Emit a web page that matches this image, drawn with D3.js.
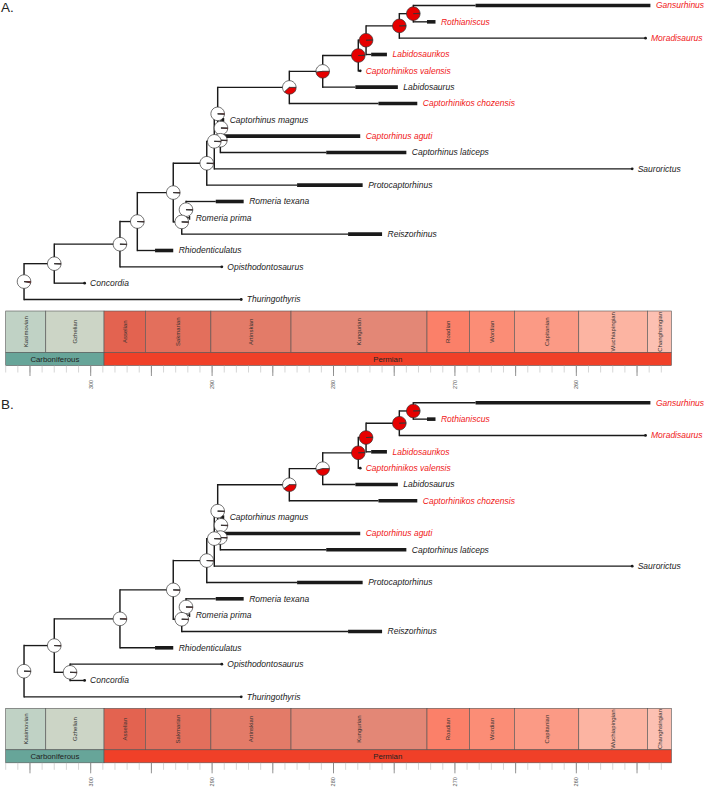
<!DOCTYPE html>
<html><head><meta charset="utf-8">
<script src="https://cdn.jsdelivr.net/npm/d3@7"></script>
<style>body{margin:0;background:#fff}svg{display:block}</style>
</head><body>
<svg id="chart" width="705" height="787"></svg>
<script>
// ---------- DATA ----------
const taxa = ["Gansurhinus","Rothianiscus","Moradisaurus","Labidosaurikos","Captorhinikos valensis","Labidosaurus","Captorhinikos chozensis","Captorhinus magnus","Captorhinus aguti","Captorhinus laticeps","Saurorictus","Protocaptorhinus","Romeria texana","Romeria prima","Reiszorhinus","Rhiodenticulatus","Opisthodontosaurus","Concordia","Thuringothyris"];
const firstAppearance = [268.3, 272.3, 254.3, 276.9, 277.8, 278.2, 276.3, 289.2, 289.1, 280.6, 255.4, 283.0, 289.7, 291.9, 278.8, 294.7, 289.2, 300.5, 287.6];
const lastAppearance  = [253.9, 271.6, 254.3, 275.6, 277.8, 274.7, 273.1, 289.0, 277.8, 274.0, 255.4, 277.6, 287.4, 291.8, 276.0, 293.2, 289.2, 300.5, 287.6];
const tipHighlighted  = [1,1,1,1,1,0,1,0,1,0,0,0,0,0,0,0,0,0,0];

// Panel A tree
const nodeNamesA = ["M1","M2","M3","M4","M5","M6","K2","K1","Nc","Nb","Na","RmTP","Rm","C4","C3","C2","C1","R"];
const nodeChildrenA = [["Gansurhinus","Rothianiscus"],["M1","Moradisaurus"],["M2","Labidosaurikos"],["M3","Captorhinikos valensis"],["M4","Labidosaurus"],["M5","Captorhinikos chozensis"],["Captorhinus magnus","Captorhinus aguti"],["K2","Captorhinus laticeps"],["M6","K1"],["Nc","Saurorictus"],["Nb","Protocaptorhinus"],["Romeria texana","Romeria prima"],["RmTP","Reiszorhinus"],["Na","Rm"],["C4","Rhiodenticulatus"],["C3","Opisthodontosaurus"],["C2","Concordia"],["C1","Thuringothyris"]];
const nodeAgesA = [273.43,274.58,277.32,277.96,280.89,283.64,289.27,289.32,289.54,289.82,290.44,292.15,292.50,293.20,296.16,297.59,303.0,305.49];
const nodeRedA  = [0.99,0.99,0.99,0.99,0.48,0.38,0.01,0.01,0.01,0.01,0.01,0.01,0.01,0.01,0.01,0.01,0.01,0.03];

// Panel B tree
const nodeNamesB = ["M1","M2","M3","M4","M5","M6","K2","K1","Nc","Nb","Na","RmTP","Rm","C4","B2","Bop","B1","R"];
const nodeChildrenB = [["Gansurhinus","Rothianiscus"],["M1","Moradisaurus"],["M2","Labidosaurikos"],["M3","Captorhinikos valensis"],["M4","Labidosaurus"],["M5","Captorhinikos chozensis"],["Captorhinus magnus","Captorhinus aguti"],["K2","Captorhinus laticeps"],["M6","K1"],["Nc","Saurorictus"],["Nb","Protocaptorhinus"],["Romeria texana","Romeria prima"],["RmTP","Reiszorhinus"],["Na","Rm"],["C4","Rhiodenticulatus"],["Opisthodontosaurus","Concordia"],["B2","Bop"],["B1","Thuringothyris"]];
const nodeAgesB = [273.43,274.58,277.32,277.96,280.89,283.64,289.27,289.32,289.54,289.82,290.44,292.15,292.50,293.20,297.59,301.7,303.0,305.49];
const nodeRedB  = [0.99,0.99,0.99,0.99,0.46,0.40,0.01,0.01,0.01,0.01,0.01,0.01,0.01,0.01,0.01,0.01,0.01,0.01];

// Time scale
const stageNames = ["Kasimovian","Gzhelian","Asselian","Sakmarian","Artinskian","Kungurian","Roadian","Wordian","Capitanian","Wuchiapingian","Changhsingian"];
const stageStart = [307.0,303.7,298.9,295.5,290.1,283.5,272.3,268.8,265.1,259.8,254.14];
const stageEnd   = [303.7,298.9,295.5,290.1,283.5,272.3,268.8,265.1,259.8,254.14,252.17];
const periodNames = ["Carboniferous","Permian"];
const periodStart = [307.0,298.9];
const periodEnd   = [298.9,252.17];
const majorTicks = [305,300,295,290,285,280,275,270,265,260,255];
const minorTicks = d3.range(307,252,-1);
const tickLabels = [300,290,280,270,260];

// ---------- STYLE ----------
const stageColors = ["#C0D2C5","#CCD5C6","#E36350","#E36F5C","#E37B68","#E38776","#FB8069","#FB8D76","#FB9A85","#FCB4A2","#FCC0B2"];
const periodColors = ["#67A599","#F04028"];
const RED = "#e60000", TEXTRED = "#f01818", INK = "#1a1a1a";
const FONT = "'Liberation Sans', Arial, Helvetica, sans-serif";

const svg = d3.select("#chart");
const x = d3.scaleLinear().domain([307, 252.17]).range([5.7, 671.4]);
const arc = d3.arc().innerRadius(0).outerRadius(6.8);
const pie = d3.pie().sort(null).startAngle(Math.PI/2).endAngle(Math.PI/2 - 2*Math.PI);

function drawPanel(off, letter, names, children, ages, reds) {
  const g = svg.append("g").attr("transform", `translate(0,${off})`);
  g.append("text").attr("x", 1).attr("y", 12).text(letter)
    .style("font-family", FONT).style("font-size", "13.5px").attr("fill", "#222");

  const y = d3.scalePoint().domain(taxa).range([5.5, 299.5]);
  const node = {};
  names.forEach((n, i) => node[n] = {name: n, age: ages[i], kids: children[i], red: reds[i]});
  const tipIdx = {}; taxa.forEach((t, i) => tipIdx[t] = i);
  function ny(n) {
    if (node[n]) { if (node[n].y === undefined) node[n].y = d3.mean(node[n].kids, ny); return node[n].y; }
    return y(n);
  }
  names.forEach(ny);

  const lines = g.append("g").attr("stroke", INK).attr("fill", "none").attr("stroke-linecap", "butt");
  names.forEach(n => {
    const d = node[n];
    const ys = d.kids.map(ny);
    lines.append("line").attr("x1", x(d.age)).attr("x2", x(d.age))
      .attr("y1", d3.min(ys) - 0.7).attr("y2", d3.max(ys) + 0.7).attr("stroke-width", 1.45);
    d.kids.forEach(k => {
      const endAge = node[k] ? node[k].age : firstAppearance[tipIdx[k]];
      lines.append("line").attr("x1", x(d.age)).attr("x2", x(endAge))
        .attr("y1", ny(k)).attr("y2", ny(k)).attr("stroke-width", 1.35);
    });
  });
  // stratigraphic ranges
  taxa.forEach((t, i) => {
    const yy = y(t);
    if (firstAppearance[i] - lastAppearance[i] > 0.05) {
      lines.append("line").attr("x1", x(firstAppearance[i])).attr("x2", x(lastAppearance[i]))
        .attr("y1", yy).attr("y2", yy).attr("stroke-width", 3.6);
    } else {
      g.append("circle").attr("cx", x(lastAppearance[i])).attr("cy", yy).attr("r", 1.4).attr("fill", INK);
    }
    g.append("text").attr("x", x(lastAppearance[i]) + 5.5).attr("y", yy).attr("dy", "0.35em")
      .text(t).style("font-family", FONT).style("font-size", "8.5px").style("font-style", "italic")
      .attr("fill", tipHighlighted[i] ? TEXTRED : "#222");
  });
  // pies
  names.forEach(n => {
    const d = node[n];
    const pg = g.append("g").attr("transform", `translate(${x(d.age)},${d.y})`);
    pg.selectAll("path").data(pie([1 - d.red, d.red])).join("path")
      .attr("d", arc).attr("fill", (p, i) => i === 0 ? "#fff" : RED)
      .attr("stroke", "#333").attr("stroke-width", 0.7);
  });

  // time scale
  const ts = g.append("g").attr("transform", "translate(0,311)");
  const sh = 41.5, ph = 13;
  stageNames.forEach((s, i) => {
    ts.append("rect").attr("x", x(stageStart[i])).attr("y", 0)
      .attr("width", x(stageEnd[i]) - x(stageStart[i])).attr("height", sh)
      .attr("fill", stageColors[i]).attr("stroke", "#555").attr("stroke-width", 0.6);
    const cx = (x(stageStart[i]) + x(stageEnd[i])) / 2;
    ts.append("text").attr("transform", `translate(${cx},${sh/2}) rotate(-90)`)
      .attr("text-anchor", "middle").attr("dy", "0.35em").text(s)
      .style("font-family", FONT).style("font-size", "6px").attr("fill", "#333");
  });
  periodNames.forEach((p, i) => {
    ts.append("rect").attr("x", x(periodStart[i])).attr("y", sh)
      .attr("width", x(periodEnd[i]) - x(periodStart[i])).attr("height", ph)
      .attr("fill", periodColors[i]).attr("stroke", "#555").attr("stroke-width", 0.6);
    ts.append("text").attr("x", (x(periodStart[i]) + x(periodEnd[i])) / 2).attr("y", sh + ph/2)
      .attr("dy", "0.35em").attr("text-anchor", "middle").text(p)
      .style("font-family", FONT).style("font-size", "7.8px").attr("fill", "#222");
  });
  const ty = sh + ph;
  minorTicks.forEach(t => ts.append("line").attr("x1", x(t)).attr("x2", x(t))
    .attr("y1", ty).attr("y2", ty + 7).attr("stroke", "#bbb").attr("stroke-width", 0.6));
  majorTicks.forEach(t => ts.append("line").attr("x1", x(t)).attr("x2", x(t))
    .attr("y1", ty).attr("y2", ty + 10.5).attr("stroke", "#777").attr("stroke-width", 0.8));
  tickLabels.forEach(t => ts.append("text")
    .attr("transform", `translate(${x(t)},${ty + 19}) rotate(-90)`)
    .attr("text-anchor", "middle").attr("dy", "0.35em").text(t)
    .style("font-family", FONT).style("font-size", "5.5px").attr("fill", "#555"));
}

drawPanel(0, "A.", nodeNamesA, nodeChildrenA, nodeAgesA, nodeRedA);
drawPanel(397.3, "B.", nodeNamesB, nodeChildrenB, nodeAgesB, nodeRedB);
</script>
</body></html>
